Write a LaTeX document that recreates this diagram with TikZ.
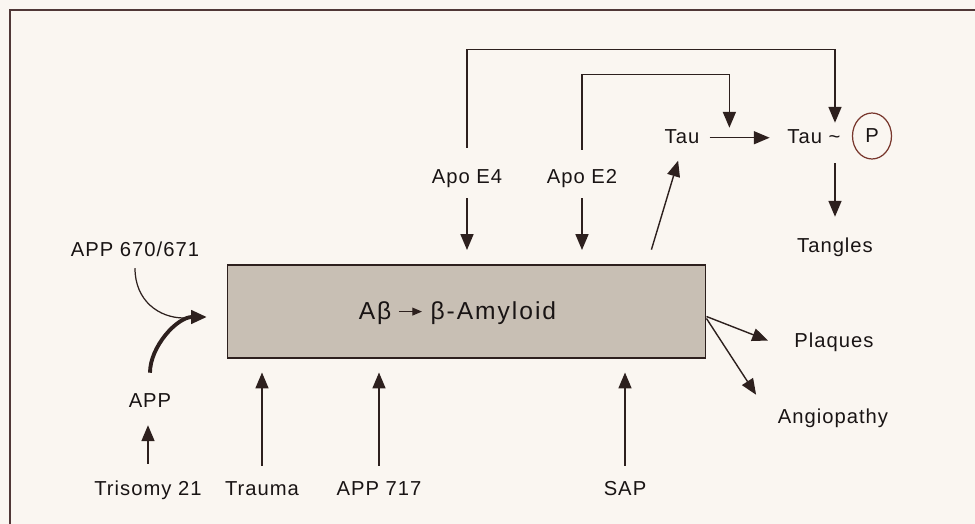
\documentclass[tikz,border=0pt]{standalone}
\usepackage{fontspec}
\setmainfont{Liberation Sans}
\newfontfamily\lblfont[LetterSpace=5]{Liberation Sans}
\newfontfamily\boxfont[LetterSpace=8]{Liberation Sans}
\usetikzlibrary{arrows.meta,calc,shapes.geometric}

\definecolor{paper}{RGB}{250,246,241}
\definecolor{boxfill}{RGB}{200,191,180}
\definecolor{wire}{RGB}{45,32,30}
\definecolor{ring}{RGB}{120,55,45}
\definecolor{ink}{RGB}{25,20,20}
\definecolor{framecol}{RGB}{80,55,55}

\begin{document}
\begin{tikzpicture}[
  x=0.02cm, y=-0.02cm,
  lbl/.style={font=\lblfont\fontsize{11.5}{14}\selectfont, text=ink, inner sep=0pt,
    text height=8.5pt, text depth=2.5pt, anchor=base},
  amyloidbox/.style={draw=wire, line width=0.6pt, fill=boxfill, minimum width=9.58cm,
    minimum height=1.86cm, inner sep=0pt, text height=9.5pt, text depth=0pt,
    font=\boxfont\fontsize{14}{16}\selectfont, text=ink},
  phos/.style={ellipse, draw=ring, line width=0.7pt, minimum width=0.78cm,
    minimum height=0.92cm, inner sep=0pt, font=\lblfont\fontsize{11.5}{14}\selectfont, text=ink},
  arr/.style={-{Triangle[length=9pt,width=7.4pt]}, line width=0.8pt, draw=wire},
  frame/.style={draw=framecol, line width=1.1pt}
]

\fill[paper] (0,0) rectangle (975,524);
\useasboundingbox (0,0) rectangle (975,524);
\draw[frame] (10,524) -- (10,10) -- (975,10);

% central box
\node[amyloidbox] (amyloid) at (466.5,311.5)
  {Aβ\hspace{0.14cm}\tikz[baseline={(0,-4.7pt)}]\draw[-{Triangle[length=5.5pt,width=4.5pt]}, line width=0.7pt, draw=wire] (0,0) -- (0.46cm,0);\hspace{0.16cm}β-Amyloid\kern0.36cm\relax};

% labels
\node[lbl] (app670) at (135,256) {APP 670/671};
\node[lbl] (app) at (150,407) {APP};
\node[lbl] (trisomy) at (148,495) {Trisomy 21};
\node[lbl] (trauma) at (262,495) {Trauma};
\node[lbl] (app717) at (379,495) {APP 717};
\node[lbl] (sap) at (625,495) {SAP};
\node[lbl] (apoe4) at (467,183) {Apo E4};
\node[lbl] (apoe2) at (582,183) {Apo E2};
\node[lbl] (tau) at (682,143) {Tau};
\node[lbl] (taup) at (814,143) {Tau \textasciitilde};
\node[phos] (pgroup) at (872,136) {P};
\node[lbl] (tangles) at (835,252) {Tangles};
\node[lbl] (plaques) at (834,347) {Plaques};
\node[lbl] (angio) at (833,423) {Angiopathy};

\coordinate (appin) at (207,317);
\coordinate (merge) at (184,318);

% inputs to the box
\draw[draw=wire, line width=0.7pt, shorten <=0.15cm]
  (app670.south) .. controls +(0,40) and +(-25,0) .. (merge);
\draw[arr, line width=2.2pt, shorten <=0.38cm]
  (app.north) .. controls +(0,-45) and +(-30,0) .. (appin);
\draw[arr, shorten <=0.32cm, shorten >=0.27cm] (trisomy.north) -- (trisomy.north |- app.south);

\foreach \src in {trauma, app717, sap}
  \draw[arr, shorten <=0.28cm, shorten >=0.28cm] (\src.north) -- (\src.north |- amyloid.south);

\foreach \src in {apoe4, apoe2}
  \draw[arr, shorten <=0.21cm, shorten >=0.29cm] (\src.south) -- (\src.south |- amyloid.north);

% tau branch
\draw[arr, shorten <=0.4cm]
  (apoe4.north) -- ++(0,-118) -| ([yshift=0.1cm]tangles.north |- taup.north);
\draw[arr, shorten <=0.36cm]
  (apoe2.north) -- ++(0,-93) -| ($(tau.north east)!0.34!(taup.north west)$);
\draw[arr, shorten <=0.31cm, shorten >=0.27cm] ([xshift=3.61cm]amyloid.north) -- (tau.south);
\draw[arr, shorten <=0.2cm, shorten >=0.35cm] (tau.east) -- (taup.west);
\draw[arr, shorten <=0.31cm, shorten >=0.4cm] (tangles.north |- taup.south) -- (tangles.north);

% outputs
\draw[arr, shorten >=0.56cm] ([yshift=-0.1cm]amyloid.east) -- ([yshift=-0.18cm]plaques.west);
\draw[arr, shorten >=0.31cm] ([yshift=-0.14cm]amyloid.east) -- ([xshift=-0.26cm]angio.north west);

\end{tikzpicture}
\end{document}
